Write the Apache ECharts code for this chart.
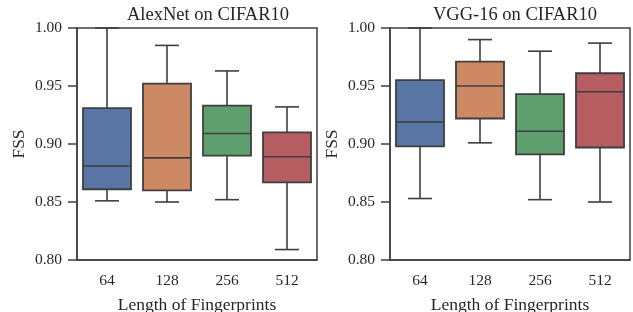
<!doctype html>
<html lang="en">
<head>
    <meta charset="UTF-8">
    <title>FSS boxplots</title>
    <style>
        html, body {margin: 0; padding: 0; background: #fff;}
        #chart {width: 633px; height: 312px;}
    </style>
</head>
<body>
<div id="chart"></div>
<script src="https://cdn.jsdelivr.net/npm/echarts@6/dist/echarts.min.js"></script>
<script>
    // categories and tick labels
    var lengths = ['64', '128', '256', '512'];
    var yTicks = [0.80, 0.85, 0.90, 0.95, 1.00];
    // [lower whisker, Q1, median, Q3, upper whisker] per length
    var alexnetStats = [
        [0.851, 0.861, 0.881, 0.931, 1.000],
        [0.850, 0.860, 0.888, 0.952, 0.985],
        [0.852, 0.890, 0.909, 0.933, 0.963],
        [0.809, 0.867, 0.889, 0.910, 0.932]
    ];
    var vggStats = [
        [0.853, 0.898, 0.919, 0.955, 1.000],
        [0.901, 0.922, 0.950, 0.971, 0.990],
        [0.852, 0.891, 0.911, 0.943, 0.980],
        [0.850, 0.897, 0.945, 0.961, 0.987]
    ];
    var boxColors = ['#5875a4', '#cc8963', '#5f9e6e', '#b55d60'];

    var lineColor = '#3f3f3f';
    var textColor = '#262626';
    var font = '"Liberation Serif", "DejaVu Serif", serif';

    function toRows(stats) {
        return stats.map(function (s, i) { return [i].concat(s); });
    }

    function renderBox(params, api) {
        var i = api.value(0);
        var band = api.size([1, 0])[0];
        var half = band * 0.4;
        var cap = half / 2;
        var lo = api.coord([i, api.value(1)]);
        var q1 = api.coord([i, api.value(2)]);
        var med = api.coord([i, api.value(3)]);
        var q3 = api.coord([i, api.value(4)]);
        var hi = api.coord([i, api.value(5)]);
        var x = lo[0];
        var ls = {stroke: lineColor, lineWidth: 1.6};
        return {
            type: 'group',
            children: [
                {type: 'line', shape: {x1: x, y1: hi[1], x2: x, y2: q3[1]}, style: ls},
                {type: 'line', shape: {x1: x, y1: q1[1], x2: x, y2: lo[1]}, style: ls},
                {type: 'line', shape: {x1: x - cap, y1: hi[1], x2: x + cap, y2: hi[1]}, style: ls},
                {type: 'line', shape: {x1: x - cap, y1: lo[1], x2: x + cap, y2: lo[1]}, style: ls},
                {type: 'rect', shape: {x: x - half, y: q3[1], width: half * 2, height: q1[1] - q3[1]},
                    style: {fill: boxColors[i], stroke: lineColor, lineWidth: 1.8}},
                {type: 'line', shape: {x1: x - half, y1: med[1], x2: x + half, y2: med[1]}, style: ls}
            ]
        };
    }

    function xAxis(idx) {
        return {
            type: 'category', gridIndex: idx, data: lengths,
            name: 'Length of Fingerprints', nameLocation: 'middle', nameGap: 36,
            nameTextStyle: {fontFamily: font, fontSize: 17.5, color: textColor},
            axisLine: {lineStyle: {color: lineColor, width: 1.5}},
            axisTick: {alignWithLabel: true, length: 7, lineStyle: {color: lineColor, width: 1.5}},
            axisLabel: {fontFamily: font, fontSize: 15.5, color: textColor, margin: 13},
            splitLine: {show: false}
        };
    }

    function yAxis(idx) {
        return {
            type: 'value', gridIndex: idx, min: yTicks[0], max: yTicks[yTicks.length - 1], interval: 0.05,
            name: 'FSS', nameLocation: 'middle', nameGap: 49,
            nameTextStyle: {fontFamily: font, fontSize: 17.5, color: textColor},
            axisLine: {show: true, lineStyle: {color: lineColor, width: 1.5}},
            axisTick: {show: true, length: 9, lineStyle: {color: lineColor, width: 1.5}},
            axisLabel: {fontFamily: font, fontSize: 15.5, color: textColor, margin: 15,
                formatter: function (v) { return v.toFixed(2); }},
            splitLine: {show: false}
        };
    }

    var titleStyle = {fontFamily: font, fontSize: 18.5, fontWeight: 'normal', color: textColor};
    var chart = echarts.init(document.getElementById('chart'));
    chart.setOption({
        animation: false,
        title: [
            {text: 'AlexNet on CIFAR10', left: 203, top: 1, textAlign: 'center', textStyle: titleStyle},
            {text: 'VGG-16 on CIFAR10', left: 510, top: 1, textAlign: 'center', textStyle: titleStyle}
        ],
        grid: [
            {left: 77, right: 316, top: 28, bottom: 52, outerBoundsMode: 'none', containLabel: false,
                show: true, borderColor: lineColor, borderWidth: 1.5},
            {left: 390, right: 3, top: 28, bottom: 52, outerBoundsMode: 'none', containLabel: false,
                show: true, borderColor: lineColor, borderWidth: 1.5}
        ],
        xAxis: [xAxis(0), xAxis(1)],
        yAxis: [yAxis(0), yAxis(1)],
        series: [
            {type: 'custom', xAxisIndex: 0, yAxisIndex: 0, data: toRows(alexnetStats),
                renderItem: renderBox, encode: {x: 0, y: [1, 2, 3, 4, 5]}},
            {type: 'custom', xAxisIndex: 1, yAxisIndex: 1, data: toRows(vggStats),
                renderItem: renderBox, encode: {x: 0, y: [1, 2, 3, 4, 5]}}
        ]
    });
</script>
</body>
</html>
